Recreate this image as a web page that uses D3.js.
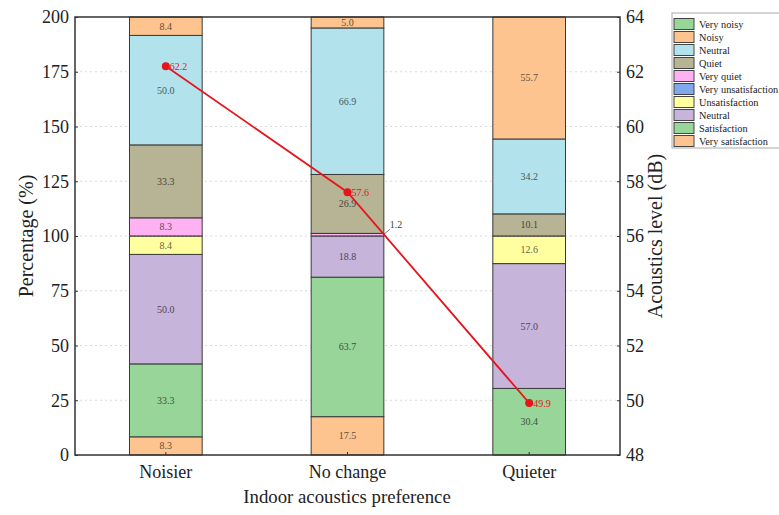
<!DOCTYPE html>
<html><head><meta charset="utf-8">
<script src="https://cdn.jsdelivr.net/npm/d3@7"></script>
<style>body{margin:0;background:#fff}svg{display:block;font-family:"Liberation Serif","Times New Roman",serif}</style>
</head><body><svg id="c" width="779" height="515"></svg>
<script>
const categories = ["Noisier", "No change", "Quieter"];
// stacked from bottom to top
const seriesNames = ["Very satisfaction","Satisfaction","Neutral","Unsatisfaction","Very unsatisfaction","Very quiet","Quiet","Neutral","Noisy","Very noisy"];
const seriesColors = ["#fdc48f","#98d598","#c6b4da","#ffff9f","#80a8ea","#ffb2f2","#b6b495","#b2e3ec","#fdc48f","#98d598"];
const verySatisfaction   = [8.3, 17.5, 0];
const satisfaction       = [33.3, 63.7, 30.4];
const neutralSatisfaction= [50.0, 18.8, 57.0];
const unsatisfaction     = [8.4, 0, 12.6];
const veryUnsatisfaction = [0, 0, 0];
const veryQuiet          = [8.3, 1.2, 0];
const quiet              = [33.3, 26.9, 10.1];
const neutralNoise       = [50.0, 66.9, 34.2];
const noisy              = [8.4, 5.0, 55.7];
const veryNoisy          = [0, 0, 0];
const acousticsLevel     = [62.2, 57.6, 49.9];
const leftTicks = [0,25,50,75,100,125,150,175,200];
const rightTicks = [48,50,52,54,56,58,60,62,64];

const seriesValues = [verySatisfaction,satisfaction,neutralSatisfaction,unsatisfaction,veryUnsatisfaction,veryQuiet,quiet,neutralNoise,noisy,veryNoisy];

const svg = d3.select("#c");
const L = 75, R = 620, T = 17, B = 455;
const x = d3.scaleBand().domain(categories).range([L, R]).paddingInner(0.6).paddingOuter(0.3);
const y = d3.scaleLinear().domain([0, 200]).range([B, T]);
const y2 = d3.scaleLinear().domain([48, 64]).range([B, T]);

// grid
svg.append("g").selectAll("line").data(leftTicks.filter(d => d > 0 && d < 200)).join("line")
  .attr("x1", L).attr("x2", R).attr("y1", d => y(d)).attr("y2", d => y(d))
  .attr("stroke", "#dadada").attr("stroke-dasharray", "2,3").attr("stroke-width", 1);

// stack data
const rows = categories.map((c, i) => {
  const o = {cat: c};
  seriesValues.forEach((s, k) => o["s" + k] = s[i]);
  return o;
});
const keys = seriesValues.map((s, k) => "s" + k);
const stacked = d3.stack().keys(keys)(rows);

const gBars = svg.append("g");
stacked.forEach((layer, k) => {
  gBars.append("g").selectAll("rect").data(layer).join("rect")
    .attr("x", d => x(d.data.cat)).attr("width", x.bandwidth())
    .attr("y", d => y(d[1])).attr("height", d => y(d[0]) - y(d[1]))
    .attr("fill", seriesColors[k]).attr("stroke", "#3a3a3a").attr("stroke-width", 1)
    .style("display", d => d[1] - d[0] > 0 ? null : "none");
});
// dashed boundary at 100
gBars.selectAll("line.mid").data(categories).join("line")
  .attr("x1", d => x(d)).attr("x2", d => x(d) + x.bandwidth())
  .attr("y1", y(100)).attr("y2", y(100))
  .attr("stroke", "#555").attr("stroke-dasharray", "2,2").attr("stroke-width", 1);

// labels
const gLab = svg.append("g").attr("font-size", 10).attr("text-anchor", "middle");
stacked.forEach((layer, k) => {
  layer.forEach(d => {
    const v = d[1] - d[0];
    if (v <= 0) return;
    const col = d3.color(seriesColors[k]).darker(2.6);
    if (v >= 3) {
      gLab.append("text").attr("x", x(d.data.cat) + x.bandwidth() / 2)
        .attr("y", y((d[0] + d[1]) / 2) + 3.5).attr("fill", col).text(v.toFixed(1));
    } else {
      const xe = x(d.data.cat) + x.bandwidth();
      gLab.append("line").attr("x1", xe).attr("y1", y(d[1]) + 1).attr("x2", xe + 6).attr("y2", y(d[1]) - 4)
        .attr("stroke", "#555").attr("stroke-width", 0.8);
      gLab.append("text").attr("x", xe + 6).attr("y", y(d[1]) - 5).attr("text-anchor", "start")
        .attr("fill", "#444").text(v.toFixed(1));
    }
  });
});

// axes frame
const axL = d3.axisLeft(y).tickValues(leftTicks).tickSize(-3).tickPadding(6);
const axR = d3.axisRight(y2).tickValues(rightTicks).tickSize(-3).tickPadding(6);
const axB = d3.axisBottom(x).tickSize(-3).tickPadding(10);
const styleAx = g => { g.selectAll("path").remove(); g.selectAll("line").attr("stroke", "#333");
  g.selectAll("text").attr("font-family", "Liberation Serif, serif").attr("font-size", 18).attr("fill", "#222"); };
svg.append("g").attr("transform", `translate(${L},0)`).call(axL).call(styleAx);
svg.append("g").attr("transform", `translate(${R},0)`).call(axR).call(styleAx);
svg.append("g").attr("transform", `translate(0,${B})`).call(axB).call(styleAx);
svg.append("rect").attr("x", L).attr("y", T).attr("width", R - L).attr("height", B - T)
  .attr("fill", "none").attr("stroke", "#333").attr("stroke-width", 1.5);

// acoustics line
const line = d3.line().x((d, i) => x(categories[i]) + x.bandwidth() / 2).y(d => y2(d));
svg.append("path").datum(acousticsLevel).attr("d", line).attr("fill", "none")
  .attr("stroke", "#e8141c").attr("stroke-width", 1.8);
svg.append("g").selectAll("circle").data(acousticsLevel).join("circle")
  .attr("cx", (d, i) => x(categories[i]) + x.bandwidth() / 2).attr("cy", d => y2(d)).attr("r", 4)
  .attr("fill", "#e8141c");
svg.append("g").selectAll("text").data(acousticsLevel).join("text")
  .attr("x", (d, i) => x(categories[i]) + x.bandwidth() / 2 + 4).attr("y", d => y2(d) + 4)
  .attr("font-size", 10).attr("fill", "#e8141c").text(d => d.toFixed(1));

// axis titles
svg.append("text").attr("transform", `translate(33,${(T + B) / 2}) rotate(-90)`).attr("text-anchor", "middle")
  .attr("font-size", 20).attr("fill", "#222").text("Percentage (%)");
svg.append("text").attr("transform", `translate(662,${(T + B) / 2}) rotate(-90)`).attr("text-anchor", "middle")
  .attr("font-size", 20).attr("fill", "#222").text("Acoustics level (dB)");
svg.append("text").attr("x", 347).attr("y", 503).attr("text-anchor", "middle")
  .attr("font-size", 18.8).attr("fill", "#222").text("Indoor acoustics preference");

// legend (top to bottom = reverse of stack)
const lg = svg.append("g");
lg.append("rect").attr("x", 672).attr("y", 13).attr("width", 120).attr("height", 135)
  .attr("fill", "#fff").attr("stroke", "#aaa").attr("stroke-width", 1);
const legIdx = d3.range(seriesNames.length).reverse();
legIdx.forEach((k, j) => {
  const cy = 24 + j * 13;
  lg.append("rect").attr("x", 674).attr("y", cy - 5.5).attr("width", 20).attr("height", 11)
    .attr("fill", seriesColors[k]).attr("stroke", "#444").attr("stroke-width", 1);
  lg.append("text").attr("x", 699).attr("y", cy + 3.5).attr("font-size", 10.3).attr("fill", "#222").text(seriesNames[k]);
});
</script></body></html>
